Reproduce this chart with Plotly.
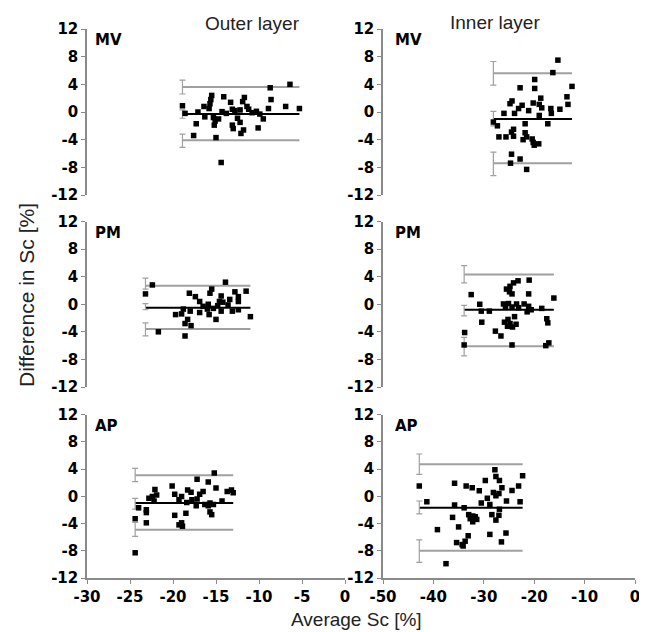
import plotly.graph_objects as go

# ---------------- data ----------------
# Outer layer, MV
outer_mv_x = [-6.4, -8.7, -8.6, -18.9, -6.9, -5.3, -8.9, -15.5, -15.6, -14.1, -11.7, -11.9, -13.3,
              -16.4, -15.8, -13.1, -12.8, -11.4, -11.2, -12.2, -10.3, -17.1, -14.3, -18.6, -9.9,
              -16.3, -15.3, -14.7, -12.5, -9.5, -15.1, -12.2, -17.3, -15.2, -13.1, -13.0, -11.8,
              -10.1, -12.1, -17.6, -15.0, -14.4, -10.8, -13.8, -15.7]
outer_mv_y = [4.0, 3.5, 1.8, 0.9, 0.8, 0.5, 0.5, 2.4, 1.8, 2.2, 2.1, 1.5, 1.4,
              0.8, 0.5, 0.4, 0.2, 0.8, 0.4, 0.3, 0.1, 0.0, 0.05, -0.2, -0.3,
              -0.7, -0.8, -1.0, -0.9, -1.0, -1.3, -1.5, -1.7, -1.9, -1.9, -2.4, -2.6,
              -2.3, -3.1, -3.4, -3.7, -7.3, -0.1, -0.2, 1.2]
outer_mv_levels = [-0.3, 3.6, -4.1]          # bias, upper LoA, lower LoA
outer_mv_ci_low = [-0.9, 2.6, -5.1]
outer_mv_ci_high = [0.3, 4.6, -3.2]

# Inner layer, MV
inner_mv_x = [-15.3, -16.3, -19.9, -22.8, -19.9, -12.5, -18.7, -13.5, -24.4, -24.8, -20.2, -19.0,
              -13.3, -22.4, -23.1, -18.5, -16.7, -14.9, -21.1, -23.9, -26.0, -16.6, -19.0, -28.1,
              -27.3, -21.8, -17.3, -24.1, -24.5, -27.0, -25.6, -24.1, -21.8, -21.5, -22.2, -20.4,
              -20.2, -19.1, -20.0, -24.5, -22.8, -24.7, -21.5]
inner_mv_y = [7.5, 5.7, 4.7, 3.5, 3.4, 3.7, 2.0, 2.2, 1.6, 1.2, 1.3, 1.1,
              1.1, 0.97, 0.5, 0.6, 0.5, 0.4, 0.2, -0.2, -0.2, -0.2, -0.5, -1.45,
              -2.0, -1.7, -1.7, -2.5, -2.9, -3.6, -3.6, -3.5, -3.0, -3.6, -4.0, -3.9,
              -4.4, -4.6, -4.8, -6.1, -6.8, -7.4, -8.3]
inner_mv_levels = [-1.0, 5.6, -7.4]
inner_mv_ci_low = [-2.0, 3.9, -9.2]
inner_mv_ci_high = [0.1, 7.3, -5.8]

# Outer layer, PM
outer_pm_x = [-13.9, -23.2, -11.5, -12.8, -15.5, -15.7, -18.1, -17.4, -14.4, -12.4, -12.4, -16.9,
              -14.6, -13.6, -16.5, -16.0, -15.3, -18.8, -18.0, -14.4, -13.1, -12.4, -19.7, -19.0,
              -15.8, -16.9, -11.0, -18.3, -15.0, -18.6, -17.9, -21.7, -18.6, -22.4, -15.9, -14.8,
              -14.2, -13.4]
outer_pm_y = [3.2, 1.5, 1.9, 1.8, 2.2, 1.6, 1.6, 1.1, 1.2, 1.1, 0.4, 0.4,
              0.4, -0.1, -0.3, -0.7, -0.6, -0.7, -1.0, -1.0, -1.0, -0.8, -1.5, -1.4,
              -1.5, -1.2, -1.8, -2.2, -2.2, -2.8, -3.1, -4.0, -4.6, 2.8, 0.0, -0.2,
              0.3, 0.7]
outer_pm_levels = [-0.5, 2.7, -3.6]
outer_pm_ci_low = [-0.8, 2.2, -4.6]
outer_pm_ci_high = [0.1, 3.8, -2.7]

# Inner layer, PM
inner_pm_x = [-21.0, -23.2, -24.1, -24.8, -25.5, -24.9, -24.4, -21.1, -32.5, -16.1, -26.1, -25.1,
              -23.5, -22.0, -30.8, -25.7, -24.4, -23.1, -21.1, -20.6, -18.5, -30.5, -28.9, -21.4,
              -17.5, -17.3, -30.4, -23.9, -25.2, -25.9, -24.8, -23.6, -24.3, -25.3, -33.8, -27.7,
              -26.6, -33.9, -24.4, -17.1, -17.7]
inner_pm_y = [3.5, 3.4, 3.1, 2.6, 2.2, 1.8, 1.5, 1.5, 1.4, 0.9, 0.04, 0.1,
              0.04, 0.04, 0.0, -0.4, -0.4, -0.5, -0.3, -0.8, -0.6, -1.0, -1.0, -1.1,
              -2.1, -2.7, -2.6, -1.8, -2.2, -2.6, -2.8, -2.9, -3.3, -3.2, -4.1, -3.9,
              -4.6, -5.9, -5.9, -5.6, -6.0]
inner_pm_levels = [-0.8, 4.3, -6.1]
inner_pm_ci_low = [-1.7, 3.1, -7.5]
inner_pm_ci_high = [-0.15, 5.6, -4.8]

# Outer layer, AP
outer_ap_x = [-15.2, -17.2, -15.9, -20.1, -15.0, -22.1, -18.3, -17.9, -16.5, -16.9, -13.7, -13.2,
              -13.0, -19.8, -22.4, -21.9, -19.0, -22.8, -22.2, -19.3, -17.8, -18.4, -17.3, -16.3,
              -15.7, -15.9, -15.3, -14.3, -24.0, -23.1, -23.1, -15.7, -15.5, -18.5, -19.8, -24.4,
              -23.1, -19.0, -19.3, -18.9, -24.4, -17.2]
outer_ap_y = [3.4, 2.5, 2.1, 1.5, 1.2, 1.0, 0.9, 0.6, 0.7, 0.3, 0.7, 0.9,
              0.5, 0.3, -0.05, 0.2, -0.05, -0.3, -0.7, -0.5, -0.5, -0.9, -1.4, -1.2,
              -1.0, -1.4, -1.2, -0.7, -1.7, -2.0, -2.4, -2.3, -2.7, -2.5, -2.8, -3.3,
              -3.9, -3.9, -4.2, -4.4, -8.3, -0.4]
outer_ap_levels = [-1.0, 3.1, -4.9]
outer_ap_ci_low = [-1.9, 2.15, -5.9]
outer_ap_ci_high = [-0.3, 4.1, -3.85]

# Inner layer, AP
inner_ap_x = [-27.8, -22.3, -27.6, -26.9, -29.7, -35.8, -42.8, -23.1, -33.5, -32.3, -30.9, -26.4,
              -24.4, -28.1, -27.0, -27.6, -29.3, -41.3, -25.5, -22.8, -30.5, -28.8, -35.8, -33.9,
              -26.9, -28.4, -27.0, -33.0, -32.2, -32.7, -31.7, -36.2, -32.2, -27.6, -35.0, -39.2,
              -28.8, -25.6, -33.1, -35.4, -34.3, -33.7, -26.5, -37.5, -34.1, -31.4]
inner_ap_y = [3.9, 3.0, 2.9, 2.3, 2.3, 1.9, 1.5, 1.5, 1.5, 1.25, 0.8, 1.25,
              0.85, 0.55, 0.4, 0.07, -0.3, -0.8, -0.7, -0.8, -1.0, -1.2, -1.3, -1.7,
              -1.9, -2.7, -2.8, -2.7, -2.9, -3.3, -3.0, -3.1, -3.75, -3.5, -4.5, -4.9,
              -5.6, -5.4, -5.8, -6.8, -7.1, -6.6, -6.7, -9.9, -7.3, -3.4]
inner_ap_levels = [-1.7, 4.7, -8.0]
inner_ap_ci_low = [-2.6, 3.2, -9.7]
inner_ap_ci_high = [-0.7, 6.2, -6.4]

panel_labels = ["MV", "MV", "PM", "PM", "AP", "AP"]
column_titles = ["Outer layer", "Inner layer"]
y_ticks = [-12, -8, -4, 0, 4, 8, 12]
x_ticks_outer = [-30, -25, -20, -15, -10, -5, 0]
x_ticks_inner = [-50, -40, -30, -20, -10, 0]
x_title = "Average Sc [%]"
y_title = "Difference in Sc [%]"

panels = [
    (outer_mv_x, outer_mv_y, outer_mv_levels, outer_mv_ci_low, outer_mv_ci_high),
    (inner_mv_x, inner_mv_y, inner_mv_levels, inner_mv_ci_low, inner_mv_ci_high),
    (outer_pm_x, outer_pm_y, outer_pm_levels, outer_pm_ci_low, outer_pm_ci_high),
    (inner_pm_x, inner_pm_y, inner_pm_levels, inner_pm_ci_low, inner_pm_ci_high),
    (outer_ap_x, outer_ap_y, outer_ap_levels, outer_ap_ci_low, outer_ap_ci_high),
    (inner_ap_x, inner_ap_y, inner_ap_levels, inner_ap_ci_low, inner_ap_ci_high),
]

# ---------------- layout geometry ----------------
# the page body adds an 8 px offset; place everything in page pixels minus that offset
OFF = 8
W, H = 647 - OFF, 632 - OFF


def px_x(p):
    return (p - OFF) / W


def px_y(p):
    return 1 - (p - OFF) / H


col_dom = [[px_x(87), px_x(345)], [px_x(383), px_x(635)]]
row_dom = [[px_y(195), px_y(29)], [px_y(387), px_y(221.5)], [px_y(578), px_y(414.5)]]
x_ranges = [[-30, 0], [-50, 0]]
x_tickvals = [x_ticks_outer, x_ticks_inner]

AXIS_GREY = "#8a8a8a"
LINE_GREY = "#a0a0a0"
tick_font = dict(family="DejaVu Sans", size=15, color="black", weight="bold")

fig = go.Figure()
layout = dict(
    width=W, height=H,
    margin=dict(l=0, r=0, t=0, b=0),
    paper_bgcolor="white", plot_bgcolor="white",
    showlegend=False,
)
annotations = []

for i, (xs, ys, levels, ci_lo, ci_hi) in enumerate(panels):
    n = i + 1
    col = i % 2
    row = i // 2
    xa = "x" if n == 1 else f"x{n}"
    ya = "y" if n == 1 else f"y{n}"
    xkey = "xaxis" if n == 1 else f"xaxis{n}"
    ykey = "yaxis" if n == 1 else f"yaxis{n}"
    x_lo, x_hi = min(xs), max(xs)

    # horizontal lines: bias (black) and limits of agreement (grey)
    for k, lev in enumerate(levels):
        fig.add_trace(go.Scatter(
            x=[x_lo, x_hi], y=[lev, lev], mode="lines",
            line=dict(color="black" if k == 0 else LINE_GREY, width=2),
            xaxis=xa, yaxis=ya, hoverinfo="skip"))
    # confidence-interval error bars at the left end of each line
    fig.add_trace(go.Scatter(
        x=[x_lo] * len(levels), y=levels, mode="markers",
        marker=dict(size=1, color="rgba(0,0,0,0)"),
        error_y=dict(type="data", symmetric=False,
                     array=[h - l for h, l in zip(ci_hi, levels)],
                     arrayminus=[l - lo for l, lo in zip(levels, ci_lo)],
                     color=LINE_GREY, thickness=1.2, width=3),
        xaxis=xa, yaxis=ya, hoverinfo="skip"))
    # data points
    fig.add_trace(go.Scatter(
        x=xs, y=ys, mode="markers",
        marker=dict(symbol="square", size=5.5, color="black"),
        xaxis=xa, yaxis=ya))

    bottom = row == 2
    layout[xkey] = dict(
        domain=col_dom[col], range=x_ranges[col], anchor=ya,
        showgrid=False, zeroline=False,
        showline=bottom, linecolor=AXIS_GREY, linewidth=1.5,
        ticks="outside" if bottom else "", ticklen=4, tickcolor=AXIS_GREY,
        tickvals=x_tickvals[col], ticktext=[str(v) for v in x_tickvals[col]],
        showticklabels=bottom, tickfont=tick_font, automargin=False,
    )
    layout[ykey] = dict(
        domain=row_dom[row], range=[-12, 12], anchor=xa,
        showgrid=False, zeroline=False,
        showline=True, linecolor=AXIS_GREY, linewidth=1.5,
        ticks="outside", ticklen=4, tickcolor=AXIS_GREY,
        tickvals=y_ticks, ticktext=[str(v) for v in y_ticks],
        tickfont=tick_font, automargin=False,
    )
    annotations.append(dict(
        text=panel_labels[i], xref=f"{xa} domain", yref=f"{ya} domain",
        x=0, y=1, xanchor="left", yanchor="top",
        xshift=6 if col == 0 else 10, yshift=0, showarrow=False,
        font=dict(family="DejaVu Sans", size=15, color="black", weight="bold")))

title_font = dict(family="Liberation Sans, Arial", size=19, color="#222222")
annotations.append(dict(text=column_titles[0], xref="paper", yref="paper",
                        x=px_x(252), y=px_y(23), xanchor="center", yanchor="middle",
                        showarrow=False, font=title_font))
annotations.append(dict(text=column_titles[1], xref="paper", yref="paper",
                        x=px_x(495), y=px_y(22), xanchor="center", yanchor="middle",
                        showarrow=False, font=title_font))
annotations.append(dict(text=x_title, xref="paper", yref="paper",
                        x=px_x(356), y=px_y(619), xanchor="center", yanchor="middle",
                        showarrow=False, font=title_font))
annotations.append(dict(text=y_title, xref="paper", yref="paper", textangle=-90,
                        x=px_x(27), y=px_y(295), xanchor="center", yanchor="middle",
                        showarrow=False, font=dict(family="Liberation Sans, Arial", size=21, color="#222222")))

layout["annotations"] = annotations
fig.update_layout(**layout)
fig.write_html("out.html")
